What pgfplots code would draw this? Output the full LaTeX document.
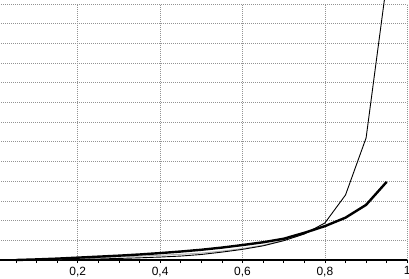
\documentclass[border=0pt]{standalone}
\usepackage{pgfplots}
\pgfplotsset{compat=1.18}
\usepackage{fontspec}
\setmainfont{Liberation Sans}
\begin{document}
\begin{tikzpicture}
\path[use as bounding box] (4.7bp,-19bp) rectangle (413.7bp,260bp);
\begin{axis}[
  at={(0,0)}, anchor=south west,
  scale only axis, width=412bp, height=256bp,
  xmin=0, xmax=1, ymin=0, ymax=13,
  clip=false,
  axis x line*=bottom, axis y line*=left,
  xtick={0.2,0.4,0.6,0.8,1},
  xticklabels={{0,2},{0,4},{0,6},{0,8},1},
  minor xtick={0.05,0.1,0.15,0.25,0.3,0.35,0.45,0.5,0.55,0.65,0.7,0.75,0.85,0.9,0.95},
  ytick={0,1,...,13}, yticklabels={},
  xmajorgrids, ymajorgrids,
  grid style={gray!85, dash pattern=on 1bp off 1bp, line width=0.8bp},
  tick align=outside, major tick length=3bp, minor tick length=3bp,
  every tick/.style={black, line width=0.6bp},
  x axis line style={line width=2bp, black},
  y axis line style={draw=none},
  xticklabel style={font=\fontsize{12}{14}\selectfont, inner sep=1bp, yshift=-2.5bp},
]
\addplot[gray!60, line width=1bp] coordinates {
(0.15,0.02) (0.2,0.06) (0.25,0.11) (0.3,0.16) (0.35,0.2) (0.4,0.24)
(0.45,0.29) (0.5,0.35) (0.55,0.45) (0.6,0.58) (0.65,0.75) (0.7,1.0)
(0.75,1.33) (0.8,1.74)};
\addplot[black, line width=0.9bp] coordinates {
(0.05,0.0) (0.1,0.0) (0.15,0.01) (0.2,0.03) (0.25,0.05) (0.3,0.08)
(0.35,0.11) (0.4,0.15) (0.45,0.2) (0.5,0.28) (0.55,0.4) (0.6,0.54)
(0.65,0.72) (0.7,0.98) (0.75,1.32) (0.8,1.88) (0.85,3.3) (0.9,6.2)
(0.95,14.1)};
\addplot[black, line width=2.4bp] coordinates {
(0.05,0.0) (0.1,0.03) (0.15,0.07) (0.2,0.12) (0.25,0.17) (0.3,0.22)
(0.35,0.28) (0.4,0.35) (0.45,0.43) (0.5,0.52) (0.55,0.63) (0.6,0.76)
(0.65,0.9) (0.7,1.08) (0.75,1.38) (0.8,1.72) (0.85,2.15) (0.9,2.8)
(0.95,3.97)};
\end{axis}
\end{tikzpicture}
\end{document}
